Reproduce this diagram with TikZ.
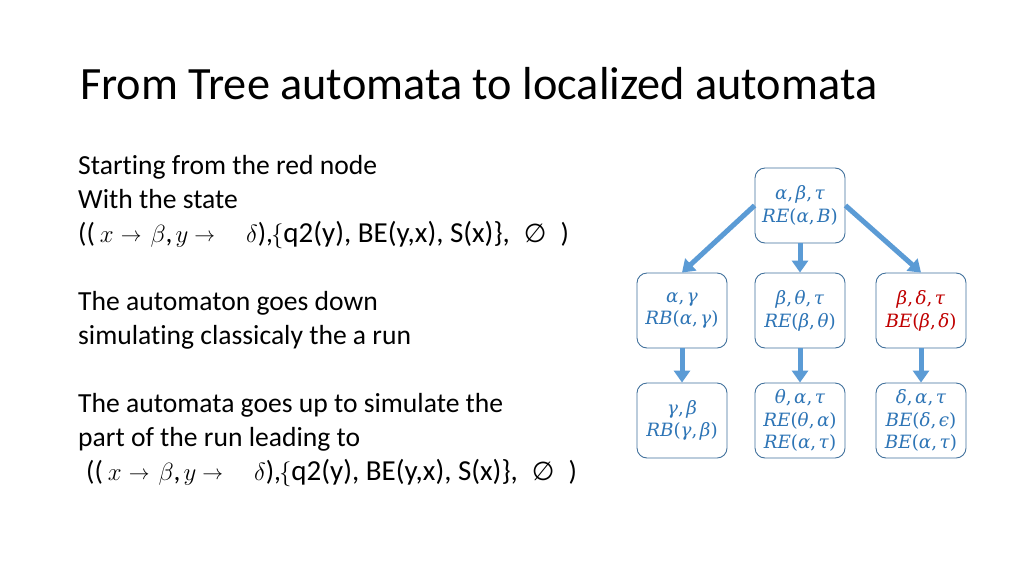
\documentclass[tikz,border=0pt]{standalone}
\usepackage{fontspec}
\setmainfont{Carlito}[Ligatures=NoCommon]
\newfontfamily\boxfont{DejaVu Serif}
\newfontfamily\symfont{DejaVu Sans}
\usetikzlibrary{arrows.meta}
\definecolor{arrowblue}{HTML}{5B9BD5}
\definecolor{boxline}{HTML}{41719C}
\definecolor{boxtext}{HTML}{2E75B6}
\definecolor{redtext}{HTML}{C00000}
\newcommand{\mi}[1]{\textit{#1}}
\newcommand{\cm}{,\kern2.5pt}
\newcommand{\smallarrow}{\raisebox{1pt}{\fontsize{21}{24}\selectfont$\to$}}
\newcommand{\stateline}{((\hspace{5pt}$x$\hspace{7pt}\smallarrow\hspace{9pt}$\beta$,\hspace{3pt}$y$\hspace{6pt}\smallarrow\hspace{31pt}$\delta$),\kern-2pt$\{${\fontsize{29}{30}\selectfont q2(y), BE(y,x), S(x)\},}\hspace{14pt}{\symfont\fontsize{26}{30}\selectfont ∅}\hspace{14pt})}
\begin{document}
\begin{tikzpicture}[x=1pt,y=-1pt,
  treebox/.style={draw=boxline, line width=0.9pt, rounded corners=10pt,
    minimum width=90pt, minimum height=75pt, inner sep=0pt, align=center,
    text=boxtext, font=\boxfont\fontsize{18.3}{22.8}\selectfont},
  link/.style={draw=arrowblue, line width=5pt, -{Triangle[width=16pt,length=12pt]}},
  body/.style={anchor=base west, inner sep=0pt, font=\fontsize{27.6}{30}\selectfont}]
\useasboundingbox (0,0) rectangle (1024,576);
\fill[white] (0,0) rectangle (1024,576);

\node[anchor=base west, inner sep=0pt, font=\fontsize{46.3}{56}\selectfont] (title) at (80,99) {From Tree automata to localized automata};

\node[body] (t1) at (78,174) {Starting from the red node};
\node[body] (t2) at (78,208) {With the state};
\node[body] (t3) at (78,242) {\stateline};
\node[body] (t4) at (78,310) {The automaton goes down};
\node[body] (t5) at (78,344) {simulating classicaly the a run};
\node[body] (t6) at (78,412) {The automata goes up to simulate the};
\node[body] (t7) at (78,446) {part of the run leading to};
\node[body] (t8) at (86,480) {\stateline};

\node[treebox] (root) at (800,205.5) {\mi{α}\cm\mi{β}\cm\mi{τ}\\\mi{RE}(\mi{α}\cm\mi{B})};
\node[treebox] (l) at (682,310.5) {\mi{α}\cm\mi{γ}\\\mi{RB}(\mi{α}\cm\mi{γ})};
\node[treebox] (m) at (800,310.5) {\mi{β}\cm\mi{θ}\cm\mi{τ}\\\mi{RE}(\mi{β}\cm\mi{θ})};
\node[treebox,text=redtext] (r) at (921,310.5) {\mi{β}\cm\mi{δ}\cm\mi{τ}\\\mi{BE}(\mi{β}\cm\mi{δ})};
\node[treebox] (ll) at (682,420.5) {\mi{γ}\cm\mi{β}\\\mi{RB}(\mi{γ}\cm\mi{β})};
\node[treebox] (mm) at (800,420.5) {\mi{θ}\cm\mi{α}\cm\mi{τ}\\\mi{RE}(\mi{θ}\cm\mi{α})\\\mi{RE}(\mi{α}\cm\mi{τ})};
\node[treebox] (rr) at (921,420.5) {\mi{δ}\cm\mi{α}\cm\mi{τ}\\\mi{BE}(\mi{δ}\cm\mi{ϵ})\\\mi{BE}(\mi{α}\cm\mi{τ})};

\draw[link] (root.west) -- (l.north);
\draw[link] (root.south) -- (m.north);
\draw[link] (root.east) -- (r.north);
\draw[link] (l.south) -- (ll.north);
\draw[link] (m.south) -- (mm.north);
\draw[link] (r.south) -- (rr.north);
\end{tikzpicture}
\end{document}
